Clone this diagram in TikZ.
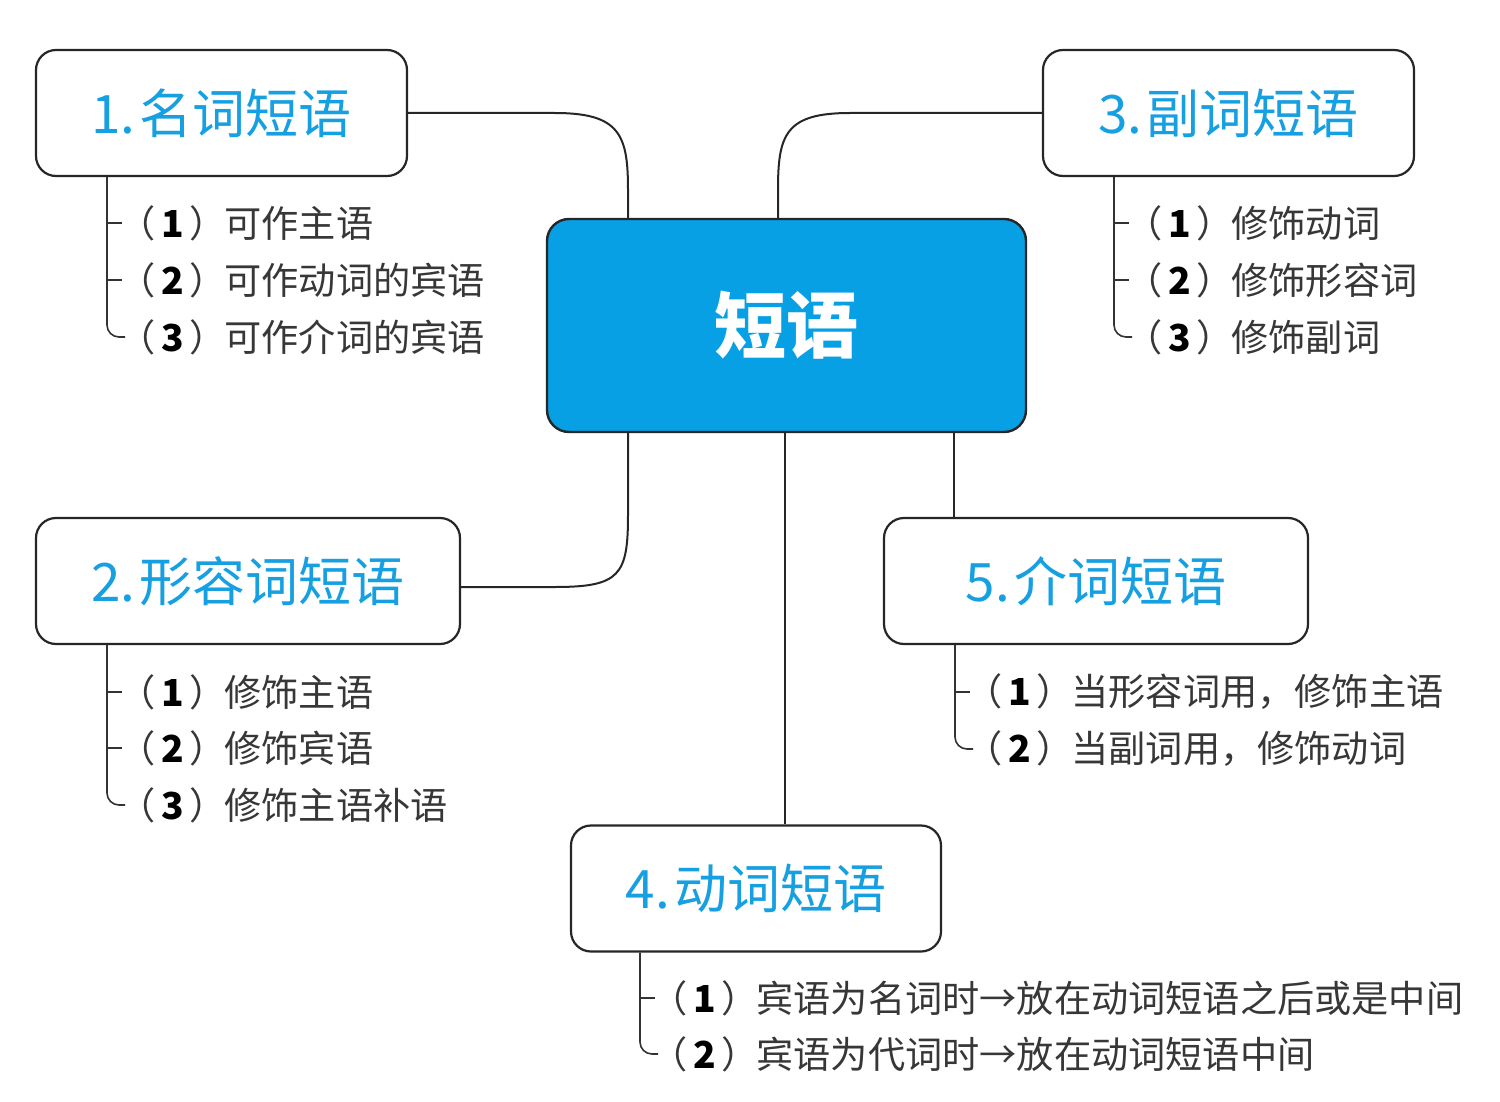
\documentclass[tikz,border=0pt]{standalone}
\usepackage{fontspec}
\setmainfont{Noto Sans CJK SC}
\usetikzlibrary{calc}
\definecolor{hubblue}{RGB}{8,160,228}
\definecolor{titleblue}{RGB}{22,160,226}
\definecolor{itemgray}{RGB}{55,55,55}
\tikzset{
  hub/.style={draw=black!85, line width=1.2pt, fill=hubblue, rounded corners=11pt,
    text=white, font=\fontsize{36}{40}\selectfont\bfseries, inner sep=0pt},
  topic/.style={draw=black!85, line width=1.1pt, fill=white, rounded corners=10pt,
    text=titleblue, font=\fontsize{26.5}{30}\selectfont, inner sep=0pt,
    minimum height=63pt},
  conn/.style={draw=black!85, line width=1pt},
  tree/.style={draw=black!80, line width=0.8pt},
  item/.style={anchor=west, inner sep=0pt, text=itemgray,
    font=\fontsize{18.6}{20}\selectfont},
}
\newcommand{\num}[1]{（\hspace{3pt}{\color{black}\bfseries #1}\hspace{2.5pt}）\hspace{-1pt}}
\begin{document}
\begin{tikzpicture}[x=0.5pt,y=-0.5pt]
\useasboundingbox (0,0) rectangle (1500,1102);

% nodes
\node[hub, minimum width=239.5pt, minimum height=106.5pt] (hub) at (786.5,325.5) {短语};
\node[topic, minimum width=185.5pt] (b1) at (221.5,113) {1.\hspace{2pt}名词短语};
\node[topic, minimum width=185.5pt] (b3) at (1228.5,113) {3.\hspace{2pt}副词短语};
\node[topic, minimum width=212pt] (b2) at (248,581) {2.\hspace{2pt}形容词短语};
\node[topic, minimum width=212pt] (b5) at (1096,581) {5.\hspace{2pt}介词短语};
\node[topic, minimum width=185pt] (b4) at (756,888.5) {4.\hspace{2pt}动词短语};

% connectors
\draw[conn] (b1.east) -- (555,113) .. controls (620,113) and (628,135) .. (628,190) -- (628,0 |- hub.north);
\draw[conn] (b3.west) -- (850,113) .. controls (785,113) and (778,135) .. (778,190) -- (778,0 |- hub.north);
\draw[conn] (628,0 |- hub.south) -- (628,515) .. controls (628,575) and (620,587) .. (555,587) -- (b2.east |- 0,587);
\draw[conn] (785,0 |- hub.south) -- (785,0 |- b4.north);
\draw[conn] (954,0 |- hub.south) -- (954,0 |- b5.north);

% tree 1
\draw[tree, rounded corners=6pt] (107,0 |- b1.south) -- (107,337) -- (125,337);
\draw[tree] (107,223) -- (122,223) (107,280) -- (122,280);
\node[item] (i11) at (118,223) {\num{1}可作主语};
\node[item] (i12) at (118,280) {\num{2}可作动词的宾语};
\node[item] (i13) at (118,337) {\num{3}可作介词的宾语};

% tree 3
\draw[tree, rounded corners=6pt] (1114,0 |- b3.south) -- (1114,337) -- (1132,337);
\draw[tree] (1114,223) -- (1129,223) (1114,280) -- (1129,280);
\node[item] (i31) at (1125,223) {\num{1}修饰动词};
\node[item] (i32) at (1125,280) {\num{2}修饰形容词};
\node[item] (i33) at (1125,337) {\num{3}修饰副词};

% tree 2
\draw[tree, rounded corners=6pt] (107,0 |- b2.south) -- (107,805) -- (125,805);
\draw[tree] (107,692) -- (122,692) (107,748) -- (122,748);
\node[item] (i21) at (118,692) {\num{1}修饰主语};
\node[item] (i22) at (118,748) {\num{2}修饰宾语};
\node[item] (i23) at (118,805) {\num{3}修饰主语补语};

% tree 5
\draw[tree, rounded corners=6pt] (955,0 |- b5.south) -- (955,749) -- (973,749);
\draw[tree] (955,692) -- (970,692);
\node[item] (i51) at (965,692) {\num{1}当形容词用，修饰主语};
\node[item] (i52) at (965,749) {\num{2}当副词用，修饰动词};

% tree 4
\draw[tree, rounded corners=6pt] (640,0 |- b4.south) -- (640,1054) -- (658,1054);
\draw[tree] (640,998) -- (655,998);
\node[item] (i41) at (650,998) {\num{1}宾语为名词时→放在动词短语之后或是中间};
\node[item] (i42) at (650,1054) {\num{2}宾语为代词时→放在动词短语中间};
\end{tikzpicture}
\end{document}
